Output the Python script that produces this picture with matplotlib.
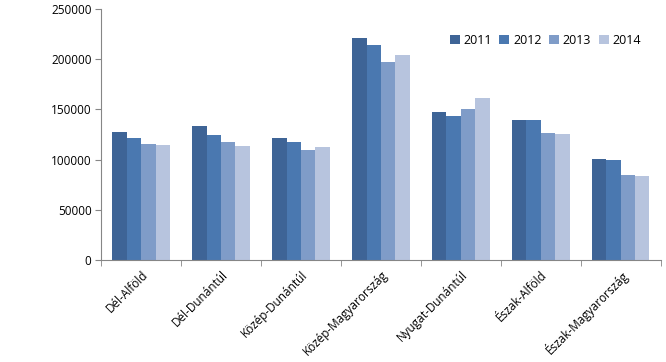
import matplotlib
matplotlib.use("Agg")
import matplotlib.pyplot as plt
import numpy as np

regions = ["Dél-Alföld", "Dél-Dunántúl", "Közép-Dunántúl", "Közép-Magyarország",
           "Nyugat-Dunántúl", "Észak-Alföld", "Észak-Magyarország"]
years = ["2011", "2012", "2013", "2014"]
v2011 = [127500, 133500, 121500, 221100, 147400, 139400, 100600]
v2012 = [121500, 124500, 117500, 214100, 143400, 139400, 99600]
v2013 = [115500, 117500, 109500, 197200, 150400, 126500, 84700]
v2014 = [114500, 113500, 112500, 204200, 161400, 125500, 83700]
colors = ["#3e6496", "#4a78b0", "#7f9cc8", "#b7c4de"]

plt.rcParams["font.family"] = ["Open Sans", "DejaVu Sans"]

fig = plt.figure(figsize=(6.66, 3.62), dpi=100)
ax = fig.add_axes([0.152, 0.282, 0.84, 0.693])

x = np.arange(len(regions))
w = 0.18
for i, (vals, yr) in enumerate(zip([v2011, v2012, v2013, v2014], years)):
    ax.bar(x + (i - 1.5) * w, vals, width=w, color=colors[i], label=yr, linewidth=0)

ax.set_xlim(-0.5, len(regions) - 0.5)
ax.set_ylim(0, 250000)
ax.set_yticks(range(0, 250001, 50000))
ax.tick_params(axis="y", labelsize=8.5, length=4, color="#868686", pad=3)

ax.set_xticks(x)
ax.set_xticklabels(regions, rotation=45, ha="right", rotation_mode="anchor", fontsize=8.5)
ax.tick_params(axis="x", length=0, pad=6)
ax.set_xticks(np.arange(-0.5, len(regions)), minor=True)
ax.tick_params(axis="x", which="minor", length=4, color="#868686")

for s in ["top", "right"]:
    ax.spines[s].set_visible(False)
for s in ["left", "bottom"]:
    ax.spines[s].set_color("#868686")

ax.legend(loc="center right", bbox_to_anchor=(0.985, 0.876), ncol=4, frameon=False,
          fontsize=9, handlelength=0.8, handleheight=0.8, handletextpad=0.3,
          columnspacing=0.6)

fig.savefig("out.png", dpi=100)
